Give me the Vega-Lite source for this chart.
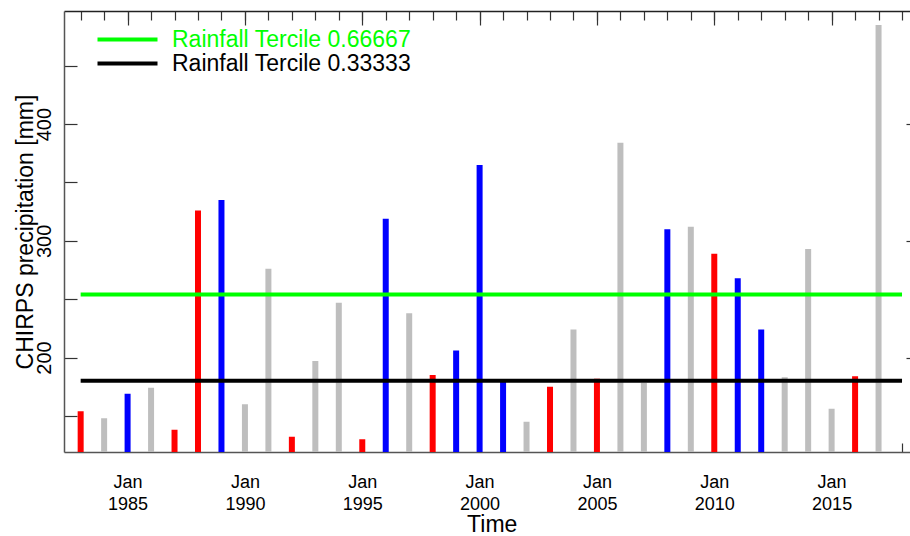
{
  "$schema": "https://vega.github.io/schema/vega-lite/v6.json",
  "width": 846,
  "height": 441,
  "autosize": "none",
  "padding": {"left": 64, "top": 11, "right": 0, "bottom": 84},
  "background": "white",
  "config": {
    "view": {"stroke": null},
    "font": "Liberation Sans",
    "axis": {"grid": false, "labelFont": "Liberation Sans", "titleFont": "Liberation Sans", "labelColor": "#000000", "titleColor": "#000000", "titleFontWeight": "normal", "tickColor": "#333333", "domainColor": "#555555", "labelFontSize": 18}
  },
  "datasets": {
    "rain": [
      {"year": 1983, "precip": 154, "enso": "El Niño"},
      {"year": 1984, "precip": 148, "enso": "Neutral"},
      {"year": 1985, "precip": 169, "enso": "La Niña"},
      {"year": 1986, "precip": 174, "enso": "Neutral"},
      {"year": 1987, "precip": 138, "enso": "El Niño"},
      {"year": 1988, "precip": 326, "enso": "El Niño"},
      {"year": 1989, "precip": 335, "enso": "La Niña"},
      {"year": 1990, "precip": 160, "enso": "Neutral"},
      {"year": 1991, "precip": 276, "enso": "Neutral"},
      {"year": 1992, "precip": 132, "enso": "El Niño"},
      {"year": 1993, "precip": 197, "enso": "Neutral"},
      {"year": 1994, "precip": 247, "enso": "Neutral"},
      {"year": 1995, "precip": 130, "enso": "El Niño"},
      {"year": 1996, "precip": 319, "enso": "La Niña"},
      {"year": 1997, "precip": 238, "enso": "Neutral"},
      {"year": 1998, "precip": 185, "enso": "El Niño"},
      {"year": 1999, "precip": 206, "enso": "La Niña"},
      {"year": 2000, "precip": 365, "enso": "La Niña"},
      {"year": 2001, "precip": 179, "enso": "La Niña"},
      {"year": 2002, "precip": 145, "enso": "Neutral"},
      {"year": 2003, "precip": 175, "enso": "El Niño"},
      {"year": 2004, "precip": 224, "enso": "Neutral"},
      {"year": 2005, "precip": 181.7, "enso": "El Niño"},
      {"year": 2006, "precip": 384, "enso": "Neutral"},
      {"year": 2007, "precip": 178.3, "enso": "Neutral"},
      {"year": 2008, "precip": 310, "enso": "La Niña"},
      {"year": 2009, "precip": 312, "enso": "Neutral"},
      {"year": 2010, "precip": 289, "enso": "El Niño"},
      {"year": 2011, "precip": 268, "enso": "La Niña"},
      {"year": 2012, "precip": 224, "enso": "La Niña"},
      {"year": 2013, "precip": 183, "enso": "Neutral"},
      {"year": 2014, "precip": 293, "enso": "Neutral"},
      {"year": 2015, "precip": 156, "enso": "Neutral"},
      {"year": 2016, "precip": 184, "enso": "El Niño"},
      {"year": 2017, "precip": 485, "enso": "Neutral"}
    ],
    "terciles": [
      {"label": "Rainfall Tercile 0.66667", "value": 254, "start": 1983, "end": 2018},
      {"label": "Rainfall Tercile 0.33333", "value": 180, "start": 1983, "end": 2018}
    ]
  },
  "layer": [
    {
      "data": {"name": "rain"},
      "mark": {"type": "rule", "strokeWidth": 6, "clip": true, "strokeCap": "butt"},
      "encoding": {
        "x": {"field": "year", "type": "quantitative", "scale": {"domain": [1982.29, 2018.34], "nice": false, "zero": false},
          "axis": {"orient": "top", "values": [1983,1984,1985,1986,1987,1988,1989,1990,1991,1992,1993,1994,1995,1996,1997,1998,1999,2000,2001,2002,2003,2004,2005,2006,2007,2008,2009,2010,2011,2012,2013,2014,2015,2016,2017,2018], "tickSize": -9, "tickWidth": 1.2, "labels": false, "domain": true, "domainColor": "#222222", "domainWidth": 1.5, "title": null}},
        "y": {"field": "precip", "type": "quantitative", "scale": {"domain": [119, 497], "nice": false, "zero": false},
          "axis": {"orient": "left", "values": [150, 200, 250, 300, 350, 400, 450], "tickSize": -13, "tickWidth": 1.2, "labels": false, "domain": true, "domainWidth": 1.5, "title": null}},
        "y2": {"datum": 0},
        "color": {"field": "enso", "type": "nominal", "scale": {"domain": ["El Niño", "La Niña", "Neutral"], "range": ["#ff0000", "#0000ff", "#bebebe"]}, "legend": null}
      }
    },
    {
      "data": {"name": "terciles"},
      "mark": {"type": "rule", "strokeWidth": 4, "strokeCap": "butt"},
      "encoding": {
        "x": {"field": "start", "type": "quantitative", "scale": {"domain": [1982.29, 2018.34], "nice": false, "zero": false},
          "axis": {"orient": "top", "values": [1985, 1990, 1995, 2000, 2005, 2010, 2015], "tickSize": -14, "tickWidth": 1.2, "labels": false, "domain": false, "title": null}},
        "x2": {"field": "end"},
        "y": {"field": "value", "type": "quantitative", "scale": {"domain": [119, 497], "nice": false, "zero": false},
          "axis": {"orient": "left", "values": [200, 300, 400], "ticks": false, "domain": false, "labelAngle": 270, "labelAlign": "center", "labelBaseline": "alphabetic", "labelPadding": 14, "labelFontSize": 20,
            "title": "CHIRPS precipitation [mm]", "titleFontSize": 23, "titleAngle": 270, "titleAlign": "center", "titleBaseline": "alphabetic", "titleX": -32, "titleY": 220.5}},
        "color": {"field": "label", "type": "nominal", "scale": {"domain": ["Rainfall Tercile 0.66667", "Rainfall Tercile 0.33333"], "range": ["#00ff00", "#000000"]},
          "legend": {"orient": "none", "legendX": 52, "legendY": 17, "title": null, "padding": 0, "symbolType": "M-3.75,0H3.75", "symbolSize": 256, "symbolStrokeWidth": 4, "labelFontSize": 23, "labelFont": "Liberation Sans", "labelOffset": 33, "rowPadding": 0, "labelLimit": 0,
            "encode": {"labels": {"update": {"fill": {"signal": "datum.value === 'Rainfall Tercile 0.66667' ? '#00ff00' : '#000000'"}}}}}}
      }
    },
    {
      "data": {"name": "rain"},
      "mark": {"type": "point", "opacity": 0},
      "encoding": {
        "x": {"field": "year", "type": "quantitative", "scale": {"domain": [1982.29, 2018.34], "nice": false, "zero": false},
          "axis": {"orient": "bottom", "values": [2018], "tickSize": -9, "tickWidth": 1.2, "labels": false, "domain": true, "domainWidth": 1.5, "title": null}},
        "y": {"field": "precip", "type": "quantitative", "scale": {"domain": [119, 497], "nice": false, "zero": false},
          "axis": {"orient": "right", "values": [200, 300, 400], "tickSize": -4, "tickWidth": 1.2, "labels": false, "domain": false, "title": null}}
      }
    },
    {
      "data": {"name": "rain"},
      "mark": {"type": "point", "opacity": 0},
      "encoding": {
        "x": {"field": "year", "type": "quantitative", "scale": {"domain": [1982.29, 2018.34], "nice": false, "zero": false},
          "axis": {"orient": "bottom", "values": [1985, 1990, 1995, 2000, 2005, 2010, 2015], "ticks": false, "domain": false, "labelExpr": "['Jan', format(datum.value, 'd')]", "labelFontSize": 18, "labelLineHeight": 22, "labelPadding": 21, "labelFlush": false, "labelOverlap": false,
            "title": "Time", "titleFontSize": 23, "titleAnchor": "middle", "titleAlign": "center", "titleBaseline": "alphabetic", "titleX": 427.7, "titleY": 79.7}},
        "y": {"field": "precip", "type": "quantitative", "scale": {"domain": [119, 497], "nice": false, "zero": false}, "axis": null}
      }
    }
  ],
  "resolve": {"scale": {"color": "independent"}, "axis": {"x": "independent", "y": "independent"}}
}
